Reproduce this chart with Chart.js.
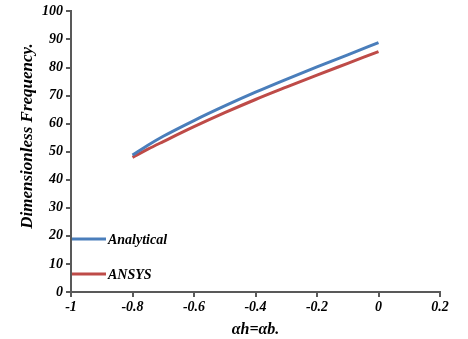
<!DOCTYPE html>
<html><head><meta charset="utf-8">
<script src="https://cdn.jsdelivr.net/npm/chart.js@4/dist/chart.umd.min.js"></script>
<style>html,body{margin:0;padding:0;background:#fff}#wrap{width:468px;height:339px}</style>
</head><body><div id="wrap"><canvas id="c"></canvas></div>
<script>
const xValues = [-0.8, -0.75, -0.7, -0.6, -0.5, -0.4, -0.3, -0.2, -0.1, 0];
const analytical = [48.8, 52.3, 55.5, 61.1, 66.3, 71.2, 75.8, 80.2, 84.5, 88.9];
const ansys = [48.0, 50.9, 53.6, 58.9, 63.9, 68.6, 73.0, 77.3, 81.5, 85.7];
const seriesNames = ['Analytical', 'ANSYS'];
const xTitle = 'αh=αb.';
const yTitle = 'Dimensionless Frequency.';

const fam = '"Liberation Serif", "Times New Roman", serif';
const font = {family: fam, weight: 'bold', style: 'italic'};
const axisColor = '#595959';

const extrasPlugin = {
  id: 'extras',
  afterDatasetsDraw(chart) {
    const ctx = chart.ctx;
    const xs = chart.scales.x, ys = chart.scales.y;
    const rows = [18.9, 6.4];
    chart.data.datasets.forEach((ds, i) => {
      const y = ys.getPixelForValue(rows[i]);
      const x0 = xs.left + 1;
      ctx.save();
      ctx.strokeStyle = ds.borderColor;
      ctx.lineWidth = 3;
      ctx.beginPath(); ctx.moveTo(x0, y); ctx.lineTo(x0 + 34, y); ctx.stroke();
      ctx.fillStyle = '#000';
      ctx.font = 'italic bold 14px ' + fam;
      ctx.textBaseline = 'middle';
      ctx.fillText(ds.label, x0 + 36, y + 1);
      ctx.restore();
    });
    ctx.save();
    ctx.translate(28, 136);
    ctx.rotate(-Math.PI / 2);
    ctx.fillStyle = '#000';
    ctx.font = 'italic bold 17px ' + fam;
    ctx.textAlign = 'center';
    ctx.textBaseline = 'middle';
    ctx.fillText(yTitle, 0, 0);
    ctx.restore();
  }
};

new Chart(document.getElementById('c'), {
  type: 'line',
  data: {
    datasets: [
      {label: seriesNames[0], data: xValues.map((x, i) => ({x, y: analytical[i]})), borderColor: '#4a7ebb', borderWidth: 3, pointRadius: 0, cubicInterpolationMode: 'monotone'},
      {label: seriesNames[1], data: xValues.map((x, i) => ({x, y: ansys[i]})), borderColor: '#be4b48', borderWidth: 3, pointRadius: 0, cubicInterpolationMode: 'monotone'}
    ]
  },
  options: {
    responsive: true, maintainAspectRatio: false, animation: false,
    layout: {padding: {top: 11, right: 28, left: 0, bottom: 0}},
    plugins: {legend: {display: false}, tooltip: {enabled: false}},
    scales: {
      x: {
        type: 'linear', min: -1, max: 0.2,
        ticks: {stepSize: 0.2, color: '#000', font: {...font, size: 14}, padding: 2,
          callback: v => String(Math.round(v * 10) / 10)},
        grid: {drawOnChartArea: false, drawTicks: true, tickLength: 5, color: axisColor, lineWidth: 2},
        border: {color: axisColor, width: 2},
        title: {display: true, text: xTitle, color: '#000', font: {...font, size: 16}, padding: {top: 0, bottom: 0}},
        afterFit: s => { s.height = 47; }
      },
      y: {
        min: 0, max: 100,
        ticks: {stepSize: 10, color: '#000', font: {...font, size: 14}, padding: 3},
        grid: {drawOnChartArea: false, drawTicks: true, tickLength: 5, color: axisColor, lineWidth: 2},
        border: {color: axisColor, width: 2},
        title: {display: false},
        afterFit: s => { s.width = 71; }
      }
    }
  },
  plugins: [extrasPlugin]
});
</script>
</body></html>
